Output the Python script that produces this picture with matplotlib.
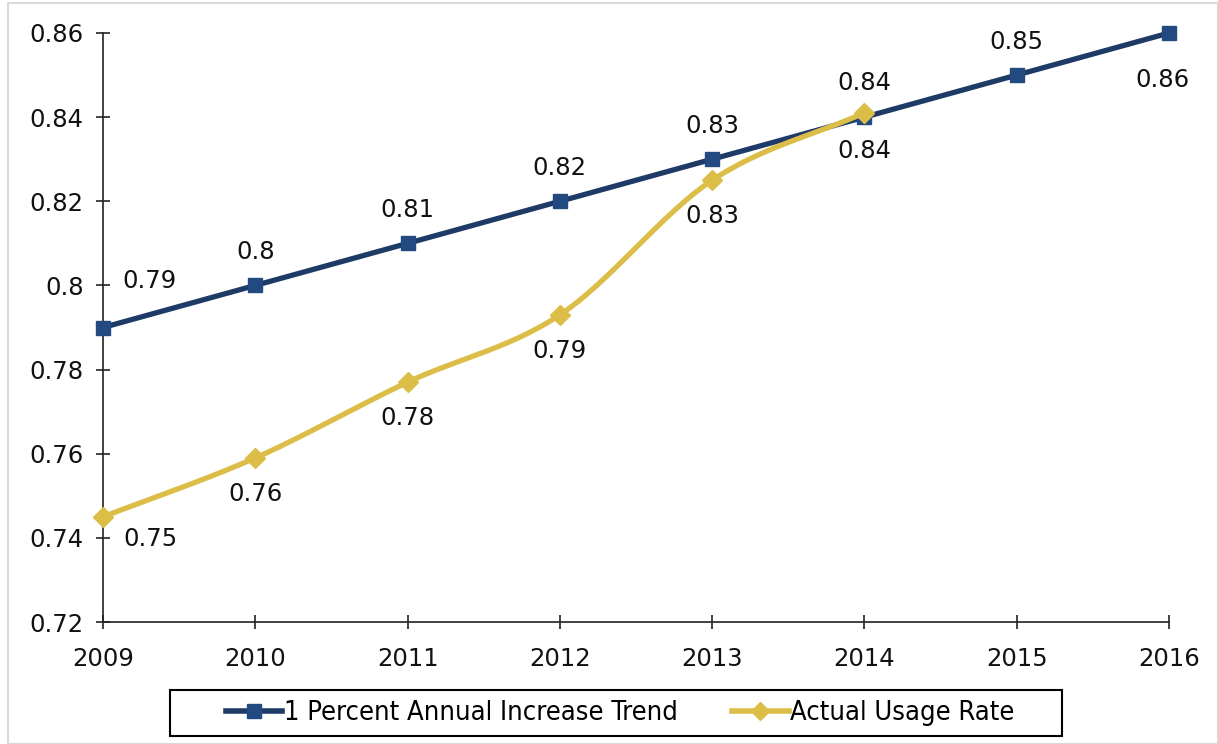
import numpy as np
import matplotlib
matplotlib.use("Agg")
import matplotlib.pyplot as plt
from matplotlib.patches import Rectangle
from matplotlib.lines import Line2D
from matplotlib import font_manager

years = [2009, 2010, 2011, 2012, 2013, 2014, 2015, 2016]
trend = [0.79, 0.80, 0.81, 0.82, 0.83, 0.84, 0.85, 0.86]
actual_years = [2009, 2010, 2011, 2012, 2013, 2014]
actual = [0.745, 0.759, 0.777, 0.793, 0.825, 0.841]
trend_labels = ["0.79", "0.8", "0.81", "0.82", "0.83", "0.84", "0.85", "0.86"]
actual_labels = ["0.75", "0.76", "0.78", "0.79", "0.83", "0.84"]
yticks = [0.72, 0.74, 0.76, 0.78, 0.80, 0.82, 0.84, 0.86]
ytick_labels = ["0.72", "0.74", "0.76", "0.78", "0.8", "0.82", "0.84", "0.86"]

BLUE_LINE = "#1d3b66"
BLUE_MK = "#224a80"
GOLD = "#dcbd48"
FS = 17.5

plt.rcParams['font.family'] = ['DejaVu Sans']

fig = plt.figure(figsize=(12.18, 7.44), dpi=100)
fig.patches.append(Rectangle((8/1218, 0), 1 - 8/1218, 1 - 3/744, transform=fig.transFigure,
                             fill=False, edgecolor="#d9d9d9", linewidth=1.5))
# legend box
fig.patches.append(Rectangle((170/1218, 1 - 736/744), (1062-170)/1218, 46/744,
                             transform=fig.transFigure, fill=False,
                             edgecolor="black", linewidth=1.5))
ax = fig.add_axes([103/1218, 1 - 622/744, (1169-103)/1218, (622-33)/744])


def smooth(xs, ys, n=30):
    # Catmull-Rom style curve through the points (Excel-like smoothed line)
    xs = np.asarray(xs, float); ys = np.asarray(ys, float)
    px = np.concatenate([[2*xs[0]-xs[1]], xs, [2*xs[-1]-xs[-2]]])
    py = np.concatenate([[2*ys[0]-ys[1]], ys, [2*ys[-1]-ys[-2]]])
    ox, oy = [], []
    for i in range(1, len(px)-2):
        p0, p1, p2, p3 = [np.array([px[j], py[j]]) for j in (i-1, i, i+1, i+2)]
        c1 = p1 + (p2 - p0) / 6
        c2 = p2 - (p3 - p1) / 6
        t = np.linspace(0, 1, n)[:, None]
        pts = (1-t)**3*p1 + 3*(1-t)**2*t*c1 + 3*(1-t)*t**2*c2 + t**3*p2
        ox.extend(pts[:, 0]); oy.extend(pts[:, 1])
    return np.array(ox), np.array(oy)


ax.plot(years, trend, color=BLUE_LINE, lw=3.8, zorder=3, clip_on=False)
ax.plot(years, trend, ls='none', marker='s', ms=10.5, color=BLUE_MK, zorder=4, clip_on=False)
sx, sy = smooth(actual_years, actual)
ax.plot(sx, sy, color=GOLD, lw=3.8, zorder=5, solid_capstyle='round', clip_on=False)
ax.plot(actual_years, actual, ls='none', marker='D', ms=10, color=GOLD, zorder=6, clip_on=False)

# data labels
trend_off = [(47, 46), (0, 33), (0, 33), (0, 33), (0, 33), (0, -34), (0, 33), (-7, -47)]
for x, y, lab, (dx, dy) in zip(years, trend, trend_labels, trend_off):
    ax.annotate(lab, (x, y), xytext=(dx, dy), textcoords='offset pixels',
                ha='center', va='center', fontsize=FS, color='#111111', zorder=7,
                annotation_clip=False)
actual_off = [(47, -22), (0, -36), (0, -36), (0, -36), (0, -36), (0, 30)]
for x, y, lab, (dx, dy) in zip(actual_years, actual, actual_labels, actual_off):
    ax.annotate(lab, (x, y), xytext=(dx, dy), textcoords='offset pixels',
                ha='center', va='center', fontsize=FS, color='#111111', zorder=7,
                annotation_clip=False)

ax.set_xlim(2009, 2016)
ax.set_ylim(0.72, 0.86)
ax.set_xticks(years)
ax.set_xticklabels([str(y) for y in years])
ax.set_yticks(yticks)
ax.set_yticklabels(ytick_labels)
for s in ['top', 'right']:
    ax.spines[s].set_visible(False)
for s in ['left', 'bottom']:
    ax.spines[s].set_color('#222222')
    ax.spines[s].set_linewidth(1.2)
ax.tick_params(axis='both', direction='inout', length=10, width=1.2, color='#222222',
               labelsize=FS, labelcolor='#111111')
ax.tick_params(axis='y', pad=9)
ax.tick_params(axis='x', pad=13)

# legend font: condensed if available
leg_prop = {'family': 'DejaVu Sans', 'size': 17}
try:
    names = {f.name for f in font_manager.fontManager.ttflist}
    if 'Liberation Sans Narrow' in names:
        leg_prop = {'family': 'Liberation Sans Narrow', 'size': 20}
    elif any(f.name == 'DejaVu Sans' and f.stretch == 'condensed' for f in font_manager.fontManager.ttflist):
        leg_prop = {'family': 'DejaVu Sans', 'stretch': 'condensed', 'size': 19.5}
except Exception:
    pass

h1 = Line2D([], [], color=BLUE_LINE, lw=4, marker='s', ms=10, mfc=BLUE_MK, mec=BLUE_MK)
h2 = Line2D([], [], color=GOLD, lw=4, marker='D', ms=9, mfc=GOLD, mec=GOLD)
leg = fig.legend([h1, h2], ["1 Percent Annual Increase Trend", "Actual Usage Rate"],
                 loc='center', bbox_to_anchor=((228+1012)/2/1218, 1 - 713/744), ncol=2,
                 frameon=False, handlelength=2.1, handletextpad=0.05, columnspacing=2.0,
                 prop=leg_prop, borderpad=0.0, borderaxespad=0.0)

fig.savefig("out.png", dpi=100)
